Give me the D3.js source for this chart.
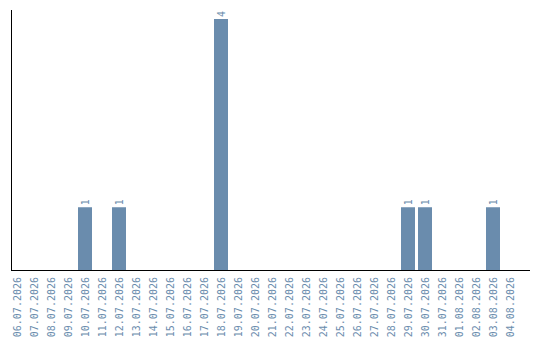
<!DOCTYPE html>
<html>
<head>
<meta charset="utf-8">
<script src="https://cdn.jsdelivr.net/npm/d3@7"></script>
<style>
  html, body { margin: 0; padding: 0; background: #fff; }
  svg { display: block; }
</style>
</head>
<body>
<svg id="chart" width="540" height="340"></svg>
<script>
// Daily counts, 06.07.2026 – 04.08.2026
const dates = [
  "06.07.2026", "07.07.2026", "08.07.2026", "09.07.2026", "10.07.2026",
  "11.07.2026", "12.07.2026", "13.07.2026", "14.07.2026", "15.07.2026",
  "16.07.2026", "17.07.2026", "18.07.2026", "19.07.2026", "20.07.2026",
  "21.07.2026", "22.07.2026", "23.07.2026", "24.07.2026", "25.07.2026",
  "26.07.2026", "27.07.2026", "28.07.2026", "29.07.2026", "30.07.2026",
  "31.07.2026", "01.08.2026", "02.08.2026", "03.08.2026", "04.08.2026"
];
const counts = [
  0, 0, 0, 0, 1,
  0, 1, 0, 0, 0,
  0, 0, 4, 0, 0,
  0, 0, 0, 0, 0,
  0, 0, 0, 1, 1,
  0, 0, 0, 1, 0
];

const barColor = "#6a8cad";
const textColor = "#6a8cad";
const font = "'DejaVu Sans Mono', monospace";

const svg = d3.select("#chart");

const x = d3.scaleBand()
  .domain(dates)
  .range([8.5, 518.5])
  .paddingInner(3 / 17)
  .paddingOuter(1.5 / 17);

const y = d3.scaleLinear()
  .domain([0, 4])
  .range([270, 19]);

const data = dates.map((d, i) => ({ date: d, value: counts[i] }));

// bars
svg.append("g")
  .selectAll("rect")
  .data(data.filter(d => d.value > 0))
  .join("rect")
  .attr("x", d => x(d.date))
  .attr("width", x.bandwidth())
  .attr("y", d => y(d.value))
  .attr("height", d => y(0) - y(d.value))
  .attr("fill", barColor);

// value labels above bars, rotated
svg.append("g")
  .selectAll("text")
  .data(data.filter(d => d.value > 0))
  .join("text")
  .attr("transform", d => `translate(${x(d.date) + x.bandwidth() / 2},${y(d.value) - 2}) rotate(-90)`)
  .attr("dy", "0.35em")
  .attr("text-anchor", "start")
  .attr("font-family", font)
  .attr("font-size", 10)
  .attr("fill", textColor)
  .text(d => d.value);

// x axis
const xAxis = svg.append("g")
  .attr("transform", "translate(0,270)")
  .call(d3.axisBottom(x).tickSize(0).tickPadding(0));
xAxis.select(".domain").remove();
xAxis.selectAll("text")
  .attr("transform", "rotate(-90)")
  .attr("x", -7)
  .attr("y", 0)
  .attr("dy", "0.35em")
  .attr("text-anchor", "end")
  .attr("font-family", font)
  .attr("font-size", 10)
  .attr("fill", textColor);

// axis lines
svg.append("line")
  .attr("x1", 11.5).attr("x2", 11.5)
  .attr("y1", 10).attr("y2", 270.5)
  .attr("stroke", "#000").attr("stroke-width", 1);
svg.append("line")
  .attr("x1", 11).attr("x2", 530)
  .attr("y1", 270.5).attr("y2", 270.5)
  .attr("stroke", "#000").attr("stroke-width", 1);
</script>
</body>
</html>
